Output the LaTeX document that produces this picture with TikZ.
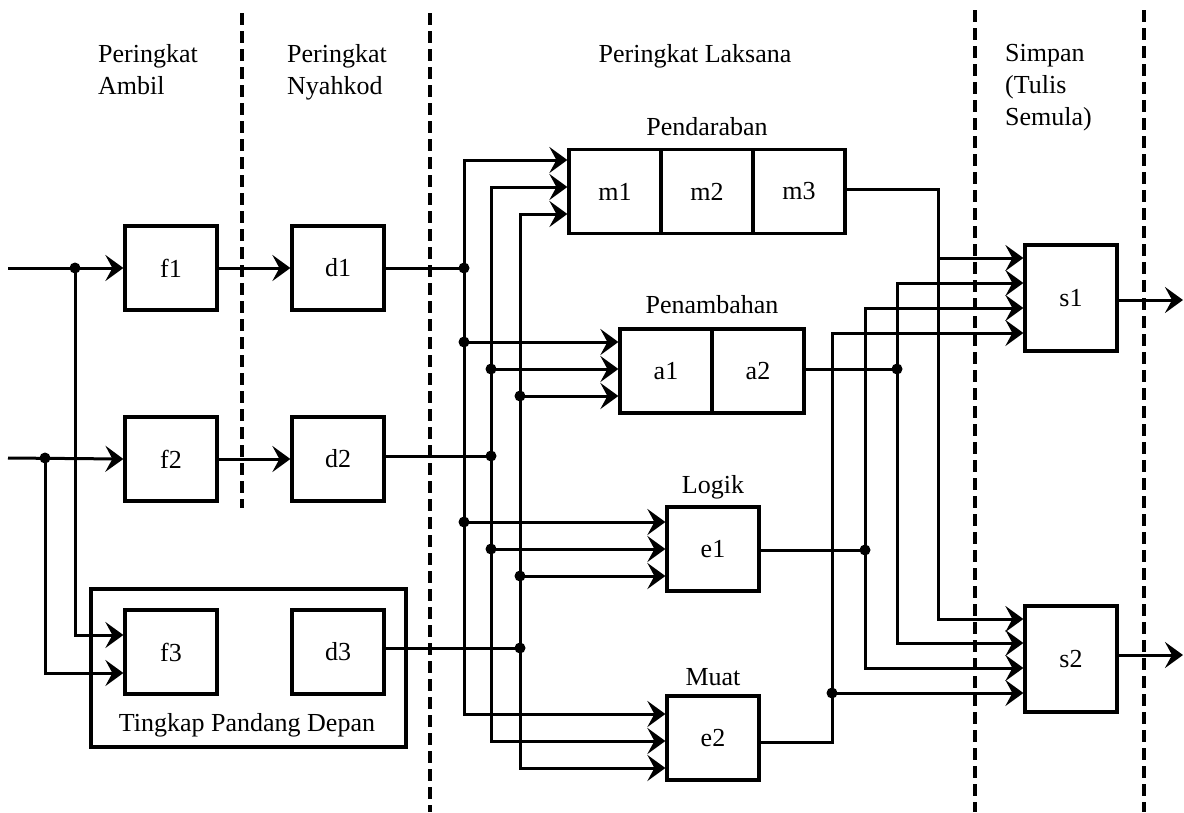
\documentclass[tikz,border=0pt]{standalone}
\usepackage{fontspec}
\setmainfont{Liberation Serif}
\usetikzlibrary{arrows.meta}
\newcommand\dfont{\fontsize{26pt}{32pt}\selectfont}
\begin{document}
\begin{tikzpicture}[x=1pt,y=-1pt,
  every node/.style={font=\dfont},
  box/.style={draw, line width=3.2pt, minimum width=92pt, minimum height=84pt, inner sep=0pt},
  tallbox/.style={box, minimum height=106pt},
  txt/.style={inner sep=0pt},
  conn/.style={line width=3pt},
  tip/.tip={Stealth[length=18pt,width=26pt,inset=7pt]},
  arr/.style={conn, -tip},
  arrboth/.style={conn, tip-tip},
  dot/.style={circle, fill=black, inner sep=0pt, minimum size=11pt},
  dashline/.style={line width=3.2pt, dash pattern=on 12pt off 6pt}
]
\useasboundingbox (0,0) rectangle (1184,812);

% stage separators
\draw[dashline] (242,13) -- (242,508);
\draw[dashline] (430,13) -- (430,812);
\draw[dashline] (975,10) -- (975,812);
\draw[dashline] (1144,10) -- (1144,812);

% headings
\node[txt, anchor=base west] (tA1) at (98,62) {Peringkat};
\node[txt, anchor=base west] (tA2) at (98,94) {Ambil};
\node[txt, anchor=base west] (tN1) at (287,62) {Peringkat};
\node[txt, anchor=base west] (tN2) at (287,94) {Nyahkod};
\node[txt, anchor=base] (tL) at (695,62) {Peringkat Laksana};
\node[txt, anchor=base west] (tS1) at (1005,61) {Simpan};
\node[txt, anchor=base west] (tS2) at (1005,93) {(Tulis};
\node[txt, anchor=base west] (tS3) at (1005,125) {Semula)};

% fetch / decode
\node[box] (f1) at (171,268) {f1};
\node[box] (d1) at (338,268) {d1};
\node[box] (f2) at (171,459) {f2};
\node[box] (d2) at (338,459) {d2};
\node[draw, line width=3.2pt, minimum width=315pt, minimum height=158pt, inner sep=0pt] (tpd) at (248.5,668) {};
\node[box] (f3) at (171,652) {f3};
\node[box] (d3) at (338,652) {d3};
\node[txt, anchor=base] (tTp) at (247,731) {Tingkap Pandang Depan};

% execute units
\node[txt, anchor=base] (tPd) at (707,135) {Pendaraban};
\node[box] (m1) at (615,191.5) {m1};
\node[box] (m2) at (707,191.5) {m2};
\node[box] (m3) at (799,191.5) {m3};
\node[txt, anchor=base] (tPn) at (712,313) {Penambahan};
\node[box] (a1) at (666,371) {a1};
\node[box] (a2) at (758,371) {a2};
\node[txt, anchor=base] (tLg) at (713,493) {Logik};
\node[box] (e1) at (713,549) {e1};
\node[txt, anchor=base] (tMu) at (713,685) {Muat};
\node[box] (e2) at (713,738) {e2};

% store
\node[tallbox] (s1) at (1071,298) {s1};
\node[tallbox] (s2) at (1071,659) {s2};

% inputs
\coordinate (in1) at (8,268);
\coordinate (in2) at (8,458);
\node[dot] (j1) at (75,268) {};
\node[dot] (j2) at (45,458) {};
\draw[arr] (in1) -- (f1.west);
\draw[arr] (in2) -- (f2.west);
\draw[arr] (j1.center) |- (f3.west |- 0,635);
\draw[arr] (j2.center) |- (f3.west |- 0,673);
\draw[arr] (f1.east) -- (d1.west);
\draw[arr] (f2.east) -- (d2.west);

% bus 1 (from d1)
\coordinate (b1t) at (464,160);
\coordinate (b1b) at (464,714);
\node[dot] (b1d) at (464,268) {};
\node[dot] (b1a) at (464,342) {};
\node[dot] (b1e) at (464,522) {};
\draw[arrboth] (m1.west |- b1t) -- (b1t) -- (b1b) -- (e2.west |- b1b);
\draw[conn] (d1.east) -- (b1d.center);
\draw[arr] (b1a.center) -- (a1.west |- b1a);
\draw[arr] (b1e.center) -- (e1.west |- b1e);

% bus 2 (from d2)
\coordinate (b2t) at (491,187);
\coordinate (b2b) at (491,741);
\node[dot] (b2d) at (491,456) {};
\node[dot] (b2a) at (491,369) {};
\node[dot] (b2e) at (491,549) {};
\draw[arrboth] (m1.west |- b2t) -- (b2t) -- (b2b) -- (e2.west |- b2b);
\draw[conn] (d2.east |- b2d) -- (b2d.center);
\draw[arr] (b2a.center) -- (a1.west |- b2a);
\draw[arr] (b2e.center) -- (e1.west |- b2e);

% bus 3 (from d3)
\coordinate (b3t) at (520,214);
\coordinate (b3b) at (520,768);
\node[dot] (b3d) at (520,648) {};
\node[dot] (b3a) at (520,396) {};
\node[dot] (b3e) at (520,576) {};
\draw[arrboth] (m1.west |- b3t) -- (b3t) -- (b3b) -- (e2.west |- b3b);
\draw[conn] (d3.east |- b3d) -- (b3d.center);
\draw[arr] (b3a.center) -- (a1.west |- b3a);
\draw[arr] (b3e.center) -- (e1.west |- b3e);

% results to store
\coordinate (r1t) at (938,189);
\coordinate (r1b) at (938,619);
\coordinate (r1s) at (938,258);
\draw[arr] (m3.east |- r1t) -- (r1t) -- (r1b) -- (s2.west |- r1b);
\draw[arr] (r1s) -- (s1.west |- r1s);

\coordinate (r2t) at (897,283);
\coordinate (r2b) at (897,643);
\node[dot] (r2d) at (897,369) {};
\draw[arrboth] (s1.west |- r2t) -- (r2t) -- (r2b) -- (s2.west |- r2b);
\draw[conn] (a2.east |- r2d) -- (r2d.center);

\coordinate (r3t) at (865,308);
\coordinate (r3b) at (865,668);
\node[dot] (r3d) at (865,550) {};
\draw[arrboth] (s1.west |- r3t) -- (r3t) -- (r3b) -- (s2.west |- r3b);
\draw[conn] (e1.east |- r3d) -- (r3d.center);

\coordinate (r4t) at (832,333);
\coordinate (r4b) at (832,742);
\node[dot] (r4d) at (832,693) {};
\draw[arr] (e2.east |- r4b) -- (r4b) -- (r4t) -- (s1.west |- r4t);
\draw[arr] (r4d.center) -- (s2.west |- r4d);

% outputs
\coordinate (o1) at (1183,300);
\coordinate (o2) at (1183,655);
\draw[arr] (s1.east |- o1) -- (o1);
\draw[arr] (s2.east |- o2) -- (o2);
\end{tikzpicture}
\end{document}
